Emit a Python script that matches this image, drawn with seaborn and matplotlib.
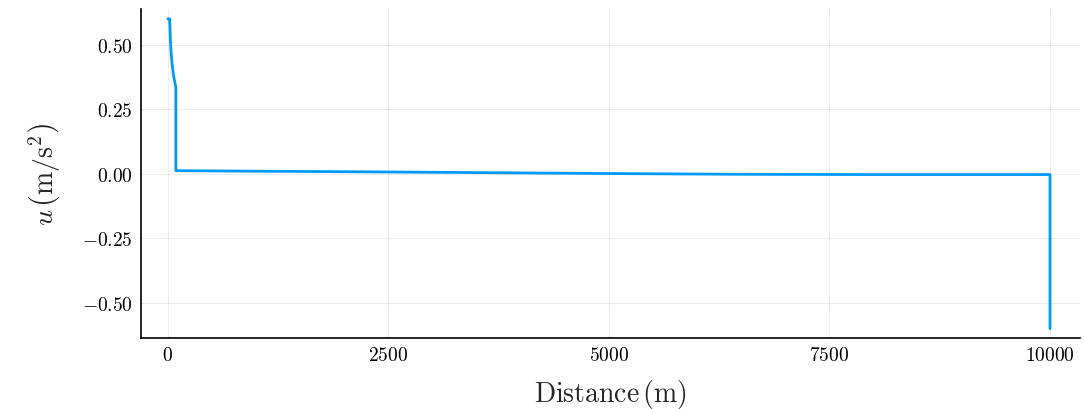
import numpy as np
import pandas as pd
import matplotlib
matplotlib.use("Agg")
import matplotlib.pyplot as plt
from matplotlib.ticker import FuncFormatter
import seaborn as sns

# velocity profile along the channel
distance = [0, 20, 28, 36, 46, 60, 75, 90, 90, 100, 2500, 5000, 6500, 8000, 10000, 10000]
velocity = [0.6, 0.6, 0.52, 0.47, 0.43, 0.39, 0.36, 0.335, 0.012, 0.012, 0.007, 0.001,
            -0.002, -0.003, -0.003, -0.6]

x_ticks = [0, 2500, 5000, 7500, 10000]
y_ticks = [-0.50, -0.25, 0.00, 0.25, 0.50]

sns.set_style("white")
plt.rcParams["mathtext.fontset"] = "cm"
plt.rcParams["font.family"] = ["DejaVu Serif"]

df = pd.DataFrame({"distance": distance, "velocity": velocity})

fig = plt.figure(figsize=(10.84, 4.10), dpi=100)
ax = fig.add_axes([0.130, 0.173, 0.8663, 0.8026])

sns.lineplot(data=df, x="distance", y="velocity", sort=False, estimator=None,
             color="#009AFA", linewidth=2.0, ax=ax)

ax.set_xlim(-306, 10340)
ax.set_ylim(-0.636, 0.638)
ax.set_xticks(x_ticks)
ax.set_yticks(y_ticks)
ax.xaxis.set_major_formatter(FuncFormatter(lambda v, p: rf"${v:.0f}$"))
ax.yaxis.set_major_formatter(FuncFormatter(lambda v, p: rf"${v:.2f}$"))
ax.tick_params(axis="both", direction="in", length=6, width=1.2,
               labelsize=14, colors="black", pad=6)

ax.grid(True, color="black", alpha=0.07, linewidth=0.8)
for side in ["top", "right"]:
    ax.spines[side].set_visible(False)
for side in ["left", "bottom"]:
    ax.spines[side].set_color("black")
    ax.spines[side].set_linewidth(1.2)

ax.set_xlabel(r"$\mathrm{Distance\,(m)}$", fontsize=20, labelpad=9)
ax.set_ylabel(r"$u\,\left(\mathrm{m/s}^{2}\right)$", fontsize=20, labelpad=14)

fig.savefig("out.png", dpi=100)
